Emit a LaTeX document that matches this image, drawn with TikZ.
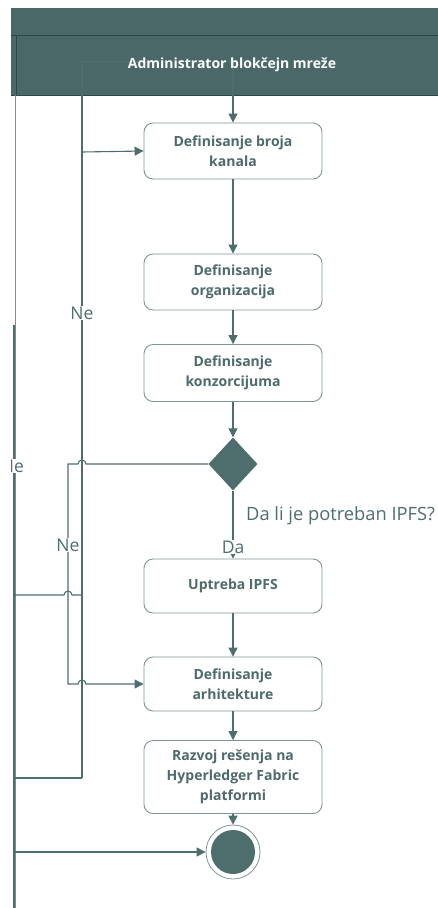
\documentclass[tikz,border=0pt]{standalone}
\usepackage{fontspec}
\setmainfont{Open Sans}
\usetikzlibrary{shapes.geometric,arrows.meta}
\definecolor{hdrfill}{HTML}{4A6868}
\definecolor{hdrline}{HTML}{2E4747}
\definecolor{flowcol}{HTML}{4E6D6D}
\definecolor{boxline}{HTML}{7E9696}
\definecolor{boxtext}{HTML}{4E6A6A}
\definecolor{lanecol}{HTML}{7C8E8E}

\begin{document}
\begin{tikzpicture}[x=1pt,y=-1pt,
    act/.style={rectangle,rounded corners=9pt,draw=boxline,line width=0.9pt,fill=white,
      minimum width=178pt,align=center,text=boxtext,inner sep=0pt,
      font=\fontsize{14}{20}\selectfont\bfseries},
    flow/.style={draw=flowcol,line width=1.1pt},
    arr/.style={flow,-{Triangle[length=9pt,width=9pt]}},
    lbl/.style={text=flowcol,fill=white,inner sep=1pt,font=\fontsize{17.5}{20}\selectfont},
    decision/.style={diamond,fill=flowcol,minimum width=49pt,minimum height=53pt,inner sep=0pt},
    final/.style={circle,minimum size=54pt,draw=boxline,line width=0.8pt,fill=white,
      path picture={\fill[flowcol] (path picture bounding box.center) circle (22pt);}}]
\useasboundingbox (0,0) rectangle (438,908);

% swimlane header
\fill[hdrfill] (11,8) rectangle (438,95);
\draw[hdrline,line width=1pt] (11,35) -- (438,35) (16,35) -- (16,95) (11,95) -- (438,95);
\draw[lanecol,line width=1.2pt] (15.5,95) -- (15.5,908);

\node[act,minimum height=56pt] (kanali) at (233,151) {Definisanje broja\\kanala};
\node[act,minimum height=56pt] (org) at (233,282) {Definisanje\\organizacija};
\node[act,minimum height=57pt] (konz) at (233,373) {Definisanje\\konzorcijuma};
\node[decision] (ipfs) at (233,464) {};
\node[act,minimum height=54pt] (upotreba) at (233,586) {Uptreba IPFS};
\node[act,minimum height=54pt] (arh) at (233,684) {Definisanje\\arhitekture};
\node[act,minimum height=73pt] (razvoj) at (233,777) {Razvoj rešenja na\\Hyperledger Fabric\\platformi};
\node[final] (kraj) at (233,852) {};

\coordinate (gore) at (82,62);
\coordinate (dole) at (82,778);
\coordinate (ulaz) at (82,152);
\coordinate (levo) at (14,325);
\coordinate (levodole) at (14,908);

\draw[arr] (dole) -- (gore) -| (kanali.north);
\draw[arr] (ulaz) -- (kanali.west);
\draw[arr] (kanali) -- (org);
\draw[arr] (org) -- (konz);
\draw[arr] (konz) -- (ipfs);
\draw[arr] (ipfs) -- (upotreba);
\draw[arr] (upotreba) -- (arh);
\draw[arr] (arh) -- (razvoj);
\draw[arr] (razvoj) -- (kraj);
\draw[arr] (ipfs.west) -- (86,464) arc[start angle=0,end angle=180,radius=4pt]
  -- (68,464) -- (68,684) -- (78,684) arc[start angle=180,end angle=0,radius=4pt] -- (arh.west);
\draw[flow] (82,595) -- (72,595) arc[start angle=0,end angle=180,radius=4pt] -- (14,595);
\draw[flow] (dole) -- (14,778);
\draw[flow,line width=2pt] (levo) -- (levodole);
\draw[arr] (14,852) -- (kraj.west);

\node[lbl] (ne1) at (82,313) {Ne};
\node[lbl] (ne2) at (68,545) {Ne};
\node[lbl] (da) at (233,547) {Da};
\begin{scope}
  \clip (11,0) rectangle (438,908);
  \node[lbl] (ne3) at (12.5,466) {Ne};
\end{scope}
\node[anchor=base west,text=flowcol,inner sep=0pt,font=\fontsize{18.3}{20}\selectfont] (pitanje) at (246,520) {Da li je potreban IPFS?};
\node[text=white,font=\fontsize{14}{16}\selectfont\bfseries] (uloga) at (232,65) {Administrator blokčejn mreže};
\end{tikzpicture}
\end{document}
